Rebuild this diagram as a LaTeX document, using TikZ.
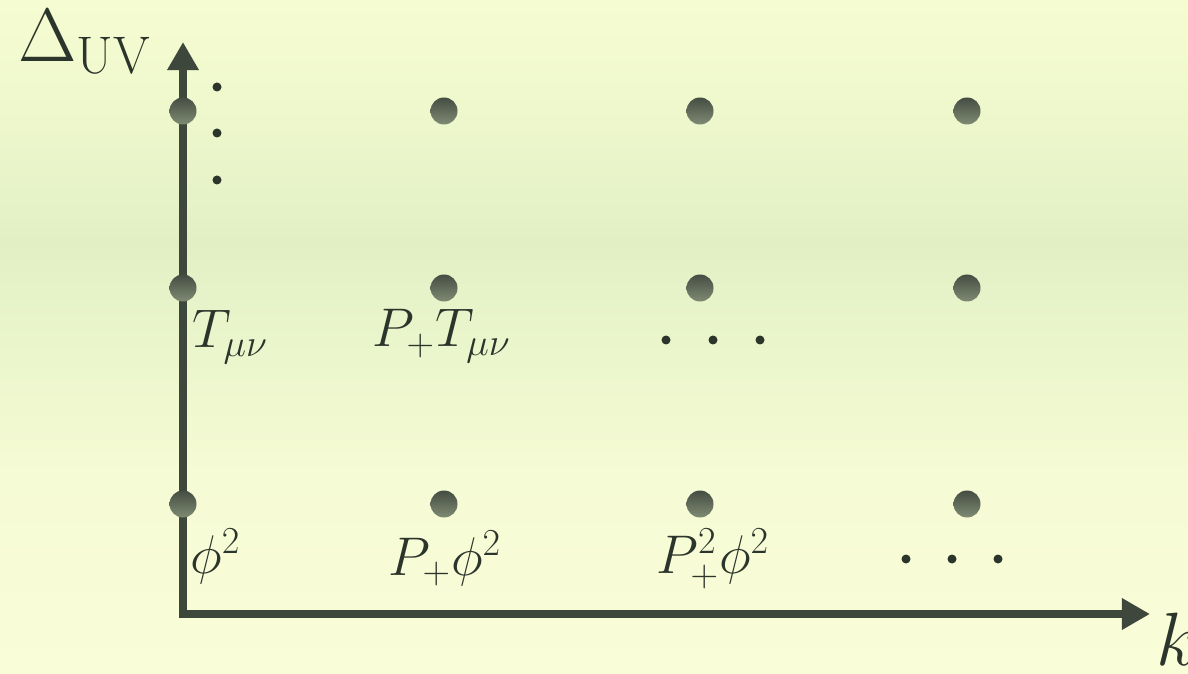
\documentclass[tikz,border=0pt]{standalone}
\usepackage{fix-cm}
\usepackage{amsmath}
\usetikzlibrary{arrows.meta}
\definecolor{bgtop}{HTML}{F6FCD2}
\definecolor{bghigh}{HTML}{EEF7CC}
\definecolor{bgmid}{HTML}{E2EFC5}
\definecolor{bglow}{HTML}{EAF5CB}
\definecolor{bgfoot}{HTML}{F5FBD4}
\definecolor{bgbot}{HTML}{F9FDD8}
\definecolor{axisgray}{HTML}{3D473B}
\definecolor{inkgray}{HTML}{2C352B}
\definecolor{dotdark}{HTML}{454D43}
\definecolor{dotlight}{HTML}{7E8B73}
\pgfdeclareverticalshading{bgshade}{100bp}{color(0bp)=(bgbot); color(25bp)=(bgbot);
  color(40bp)=(bgfoot); color(50bp)=(bglow); color(57bp)=(bgmid);
  color(66bp)=(bghigh); color(75bp)=(bgtop); color(100bp)=(bgtop)}

\begin{document}
\begin{tikzpicture}[x=0.2mm,y=-0.2mm,font=\fontsize{31}{37}\selectfont,>=Latex]
\tikzset{
  axis/.style={line width=4pt,draw=axisgray,line join=miter,
    {Triangle[length=16pt,width=17pt]}-{Triangle[length=16pt,width=17pt]}},
  state/.style={circle,minimum size=5.4mm,inner sep=0pt,top color=dotdark,bottom color=dotlight},
  dot/.style={circle,fill=inkgray,minimum size=1.8mm,inner sep=0pt},
  lab/.style={text=inkgray,inner sep=0pt,anchor=base west},
  big/.style={font=\fontsize{43}{50}\selectfont}
}

% background
\useasboundingbox (0,0) rectangle (1188,674);
\shade[shading=bgshade] (0,0) rectangle (1188,674);

% axes
\coordinate (origin) at (183,614);
\coordinate (ytip) at (183,42);
\coordinate (xtip) at (1150,614);
\draw[axis] (ytip) -- (origin) -- (xtip);
\node[lab,big] (delta) at (18,62) {$\Delta_{\mathrm{UV}}$};
\node[lab,big] (kay) at (1156,665) {$k$};

% states
\foreach \col/\x in {0/183,1/444,2/700,3/967}{
  \node[state] (top\col) at (\x,111) {};
  \node[state] (mid\col) at (\x,288) {};
  \node[state] (low\col) at (\x,504) {};
}

% dots
\node[dot] (v1) at (217,87) {};
\node[dot] (v2) at (217,133) {};
\node[dot] (v3) at (217,180) {};
\node[dot] (m1) at (666,340) {};
\node[dot] (m2) at (713,340) {};
\node[dot] (m3) at (760,340) {};
\node[dot] (l1) at (906,559) {};
\node[dot] (l2) at (952,559) {};
\node[dot] (l3) at (998,559) {};

% labels
\node[lab] (tmn) at (192,348) {$T_{\mu\nu}$};
\node[lab] (ptmn) at (372,347) {$P_+T_{\mu\nu}$};
\node[lab] (phi) at (190,573) {$\phi^2$};
\node[lab] (pphi) at (388,575) {$P_+\phi^2$};
\node[lab] (ppphi) at (656,573) {$P_+^2\phi^2$};
\end{tikzpicture}
\end{document}
